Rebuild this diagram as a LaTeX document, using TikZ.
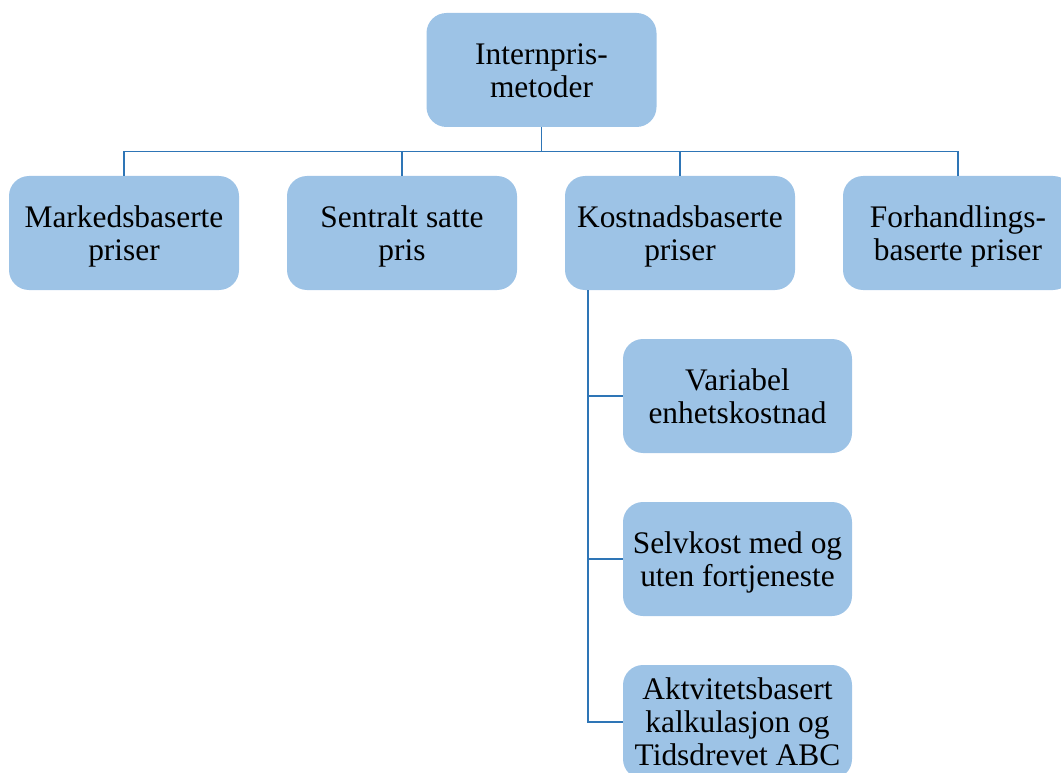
\documentclass[tikz,border=0pt]{standalone}
\usepackage{fontspec}
\setmainfont{Liberation Serif}
\definecolor{boxfill}{RGB}{157,195,230}
\definecolor{linkcol}{RGB}{46,117,182}
\newcommand{\boxline}[1]{\strut#1}
\begin{document}
\begin{tikzpicture}[x=1pt,y=-1pt,
  box/.style={rectangle, rounded corners=20pt, fill=boxfill, draw=none,
    minimum width=230pt, minimum height=114pt, inner sep=0pt},
  boxtext/.style={anchor=center, align=center, inner sep=0pt,
    font=\fontsize{31.4}{33.3}\selectfont},
  conn/.style={draw=linkcol, line width=1.3pt}]
\useasboundingbox (0,0) rectangle (1061,773);
\clip (0,0) rectangle (1061,773);

% boxes
\node[box] (top) at (541.5,70) {};
\node[box] (m) at (124,233) {};
\node[box] (s) at (402,233) {};
\node[box] (k) at (680,233) {};
\node[box] (f) at (958,233) {};
\node[box, minimum width=229pt] (v) at (737.5,396) {};
\node[box, minimum width=229pt] (sk) at (737.5,559) {};
\node[box, minimum width=229pt] (a) at (737.5,722) {};

% texts, centred in each box (lines strutted for even spacing)
\node[boxtext] (top-t) at ([yshift=-4pt]top.center) {\boxline{Internpris-}\\\boxline{metoder}};
\node[boxtext] (m-t) at ([yshift=-4pt]m.center) {\boxline{Markedsbaserte}\\\boxline{priser}};
\node[boxtext] (s-t) at ([yshift=-4pt]s.center) {\boxline{Sentralt satte}\\\boxline{pris}};
\node[boxtext] (k-t) at ([yshift=-4pt]k.center) {\boxline{Kostnadsbaserte}\\\boxline{priser}};
\node[boxtext] (f-t) at ([yshift=-4pt]f.center) {\boxline{Forhandlings-}\\\boxline{baserte priser}};
\node[boxtext] (v-t) at ([yshift=-4pt]v.center) {\boxline{Variabel}\\\boxline{enhetskostnad}};
\node[boxtext] (sk-t) at ([yshift=-4pt]sk.center) {\boxline{Selvkost med og}\\\boxline{uten fortjeneste}};
\node[boxtext] (a-t) at ([yshift=-4pt]a.center) {\boxline{Aktvitetsbasert}\\\boxline{kalkulasjon og}\\\boxline{Tidsdrevet ABC}};

% connectors
\coordinate (bus) at (541.5,151.5);
\coordinate (spine) at (588,0);
\draw[conn] (top.south) -- (top.south |- bus);
\draw[conn] (m.north) -- (m.north |- bus) -- (f.north |- bus) -- (f.north);
\draw[conn] (s.north) -- (s.north |- bus);
\draw[conn] (k.north) -- (k.north |- bus);
\draw[conn] (k.south -| spine) -- (a.west -| spine) -- (a.west);
\draw[conn] (v.west -| spine) -- (v.west);
\draw[conn] (sk.west -| spine) -- (sk.west);
\end{tikzpicture}
\end{document}
